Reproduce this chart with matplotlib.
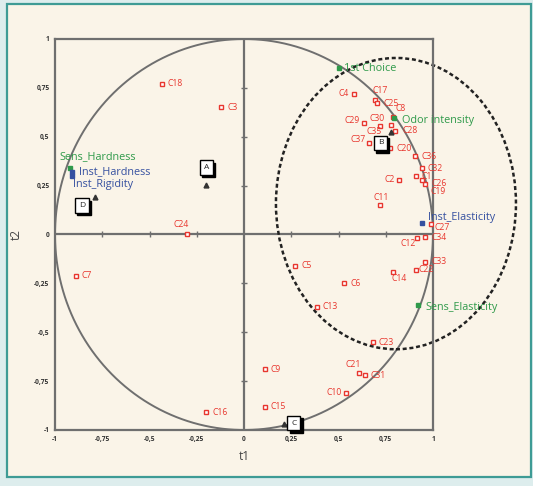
import matplotlib
matplotlib.use("Agg")
import matplotlib.pyplot as plt
import numpy as np
from matplotlib.patches import Ellipse, Rectangle

plt.rcParams["font.family"] = ["Open Sans", "DejaVu Sans"]

# observation scores (red open squares)
obs_names = ["C1", "C2", "C3", "C4", "C5", "C6", "C7", "C8", "C9", "C10",
             "C11", "C12", "C13", "C14", "C15", "C16", "C17", "C18", "C19", "C20",
             "C21", "C22", "C23", "C24", "C25", "C26", "C27", "C28", "C29", "C30",
             "C31", "C32", "C33", "C34", "C35", "C36", "C37"]
obs_t1 = [0.91, 0.82, -0.12, 0.58, 0.27, 0.53, -0.89, 0.79, 0.11, 0.54,
          0.72, 0.915, 0.385, 0.79, 0.11, -0.20, 0.695, -0.434, 0.96, 0.77,
          0.61, 0.91, 0.68, -0.30, 0.705, 0.94, 0.99, 0.80, 0.635, 0.72,
          0.64, 0.94, 0.96, 0.96, 0.78, 0.905, 0.66]
obs_t2 = [0.30, 0.28, 0.65, 0.72, -0.16, -0.25, -0.21, 0.60, -0.69, -0.81,
          0.15, -0.02, -0.37, -0.19, -0.88, -0.91, 0.69, 0.77, 0.26, 0.44,
          -0.71, -0.18, -0.55, 0.005, 0.675, 0.28, 0.055, 0.53, 0.57, 0.555,
          -0.72, 0.34, -0.14, -0.015, 0.56, 0.40, 0.47]

# variable loadings
var_names = ["Sens_Hardness", "Inst_Hardness", "Inst_Rigidity", "1st Choice",
             "Odor intensity", "Inst_Elasticity", "Sens_Elasticity"]
var_t1 = [-0.92, -0.91, -0.91, 0.50, 0.795, 0.94, 0.92]
var_t2 = [0.34, 0.32, 0.30, 0.85, 0.595, 0.06, -0.36]
var_kind = ["sens", "inst", "inst", "sens", "sens", "inst", "sens"]

# group centroids
group_names = ["A", "B", "C", "D"]
group_t1 = [-0.20, 0.78, 0.21, -0.79]
group_t2 = [0.255, 0.525, -0.97, 0.19]

ticks = [-1, -0.75, -0.5, -0.25, 0, 0.25, 0.5, 0.75, 1]

RED = "#e8362e"
GREEN = "#2f9a4a"
BLUE = "#3550a0"
GRAY = "#6f6f6f"

# label offsets in pixels (dx, dy, ha); default is to the right
obs_offsets = {
    "C24": (-6, 9, "center"), "C4": (-5, 0, "right"), "C17": (5, 9, "center"),
    "C25": (6, -1, "left"), "C8": (7, 9, "center"), "C29": (-4, 3, "right"),
    "C30": (-3, 7, "center"), "C35": (-10, -6, "right"), "C28": (7, 0, "left"),
    "C37": (-3, 3, "right"), "C20": (7, 0, "left"), "C26": (10, -4, "left"),
    "C19": (5, -8, "left"), "C2": (-4, 0, "right"), "C11": (1, 8, "center"),
    "C27": (3, -4, "left"), "C12": (-9, -5, "center"), "C22": (3, 0, "left"),
    "C14": (6, -7, "center"), "C21": (-6, 9, "center"), "C10": (-4, 0, "right"),
    "C1": (6, -1, "left"),
}
var_offsets = {
    "Sens_Hardness": (-11, 11, "left"), "Inst_Hardness": (7, 0, "left"),
    "Inst_Rigidity": (1, -9, "left"), "1st Choice": (5, 0, "left"),
    "Odor intensity": (8, -2, "left"), "Inst_Elasticity": (6, 5, "left"),
    "Sens_Elasticity": (8, -3, "left"),
}
group_offsets = {"A": (0, 17), "B": (-11, -11), "C": (10, 1), "D": (-13, -8)}

px = 0.72  # pixel -> points at 100 dpi

figure = plt.figure(figsize=(5.33, 4.86), dpi=100, facecolor="#ddeded")
figure.patches.append(Rectangle((7 / 533, 1 - 477 / 486), 524 / 533, 473 / 486,
                                transform=figure.transFigure, facecolor="#faf4e8",
                                edgecolor="#3e9b95", linewidth=1.6, zorder=-5))
axis = figure.add_axes([55 / 533, 1 - 430 / 486, 378 / 533, 391 / 486])
axis.set_facecolor("none")
axis.set_xlim(-1, 1)
axis.set_ylim(-1, 1)
for spine in axis.spines.values():
    spine.set_color(GRAY)
    spine.set_linewidth(1.6)
axis.set_xticks(ticks)
axis.set_yticks(ticks)
fmt = lambda v: ("%g" % v).replace(".", ",")
axis.set_xticklabels([fmt(t) for t in ticks])
axis.set_yticklabels([fmt(t) for t in ticks])
axis.tick_params(length=0, labelsize=4.8, colors="#333333", pad=4)
for lab in axis.get_xticklabels() + axis.get_yticklabels():
    lab.set_fontweight("bold")
axis.set_xlabel("t1", fontsize=8.5, color="#444444", labelpad=5)
axis.set_ylabel("t2", fontsize=8.5, color="#444444", labelpad=8)

# center lines with ticks
axis.axhline(0, color=GRAY, linewidth=1.6, zorder=1)
axis.axvline(0, color=GRAY, linewidth=1.6, zorder=1)
inner = [t for t in ticks if t not in (-1, 0, 1)]
axis.plot(inner, np.zeros(len(inner)), linestyle="none", marker="|",
          color=GRAY, markersize=5, markeredgewidth=1, zorder=1)
axis.plot(np.zeros(len(inner)), inner, linestyle="none", marker="_",
          color=GRAY, markersize=5, markeredgewidth=1, zorder=1)

# correlation circle and grouping ellipse
theta = np.linspace(0, 2 * np.pi, 400)
axis.plot(np.cos(theta), np.sin(theta), color=GRAY, linewidth=1.4, zorder=2)
axis.add_patch(Ellipse((0.804, 0.158), 1.27, 1.49, fill=False, edgecolor="#222222",
                       linewidth=1.8, linestyle=(0, (1.6, 1.1)), zorder=2,
                       clip_on=False))

# observations
axis.plot(obs_t1, obs_t2, linestyle="none", marker="s", markersize=3.3,
          markerfacecolor="white", markeredgecolor=RED, markeredgewidth=1, zorder=4)
for name, x, y in zip(obs_names, obs_t1, obs_t2):
    dx, dy, ha = obs_offsets.get(name, (6, 0, "left"))
    axis.annotate(name, (x, y), xytext=(dx * px, dy * px), textcoords="offset points",
                  ha=ha, va="center", fontsize=6.2, color=RED, zorder=5)

# variables
for name, x, y, kind in zip(var_names, var_t1, var_t2, var_kind):
    color = GREEN if kind == "sens" else BLUE
    axis.plot(x, y, linestyle="none", marker="s", markersize=3.3, color=color, zorder=4)
    dx, dy, ha = var_offsets[name]
    axis.annotate(name, (x, y), xytext=(dx * px, dy * px), textcoords="offset points",
                  ha=ha, va="center", fontsize=7.8, color=color, zorder=5)

# groups
axis.plot(group_t1, group_t2, linestyle="none", marker="^", markersize=3.5,
          color="#333333", zorder=4)
for name, x, y in zip(group_names, group_t1, group_t2):
    dx, dy = group_offsets[name]
    axis.annotate(name, (x, y), xytext=((dx + 2.5) * px, (dy - 2.5) * px),
                  textcoords="offset points", ha="center", va="center", fontsize=6,
                  color="black", zorder=6,
                  bbox=dict(boxstyle="square,pad=0.45", facecolor="black",
                            edgecolor="black", linewidth=1))
    axis.annotate(name, (x, y), xytext=(dx * px, dy * px), textcoords="offset points",
                  ha="center", va="center", fontsize=6, color="#222222", zorder=7,
                  bbox=dict(boxstyle="square,pad=0.45", facecolor="white",
                            edgecolor="black", linewidth=1))

figure.savefig("out.png", dpi=100, facecolor=figure.get_facecolor())
plt.close(figure)
